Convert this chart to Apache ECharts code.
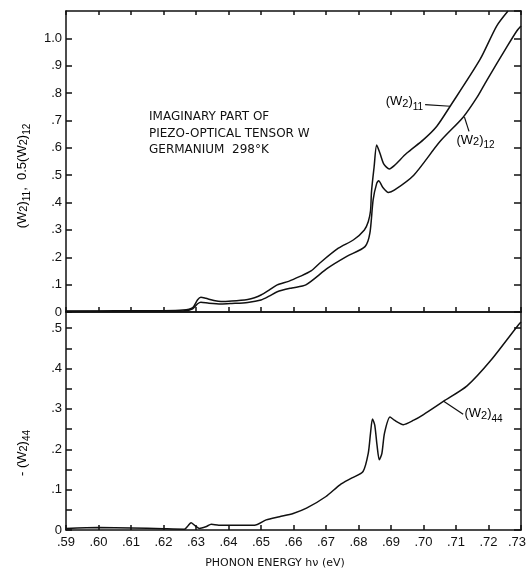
<!DOCTYPE html>
<html>
<head>
<meta charset="utf-8">
<script src="https://cdn.jsdelivr.net/npm/echarts@6/dist/echarts.min.js"></script>
<style>
  html, body { margin: 0; padding: 0; background: #fff; }
  #main { width: 526px; height: 571px; }
</style>
</head>
<body>
<div id="main"></div>
<script>
// photon energy (eV) and values
const w11E = [0.590, 0.600, 0.610, 0.620, 0.626, 0.629, 0.6305, 0.6315, 0.633, 0.6355, 0.6377, 0.641, 0.6459, 0.648, 0.650, 0.6525, 0.655, 0.6585, 0.662, 0.6654, 0.6682, 0.6738, 0.6785, 0.6818, 0.683, 0.6837, 0.684, 0.6848, 0.6856, 0.6866, 0.6878, 0.6895, 0.691, 0.6948, 0.700, 0.7041, 0.7082, 0.7174, 0.7225, 0.726];
const w11V = [0.004, 0.004, 0.005, 0.005, 0.007, 0.016, 0.045, 0.054, 0.050, 0.042, 0.038, 0.040, 0.046, 0.052, 0.062, 0.080, 0.099, 0.112, 0.130, 0.150, 0.180, 0.233, 0.264, 0.300, 0.330, 0.370, 0.440, 0.530, 0.610, 0.580, 0.540, 0.523, 0.535, 0.580, 0.630, 0.679, 0.752, 0.923, 1.045, 1.100];

const w12E = [0.590, 0.610, 0.626, 0.629, 0.6305, 0.6315, 0.634, 0.6377, 0.641, 0.6459, 0.650, 0.6525, 0.655, 0.6595, 0.6638, 0.6705, 0.6764, 0.682, 0.6835, 0.6845, 0.6856, 0.6862, 0.6875, 0.6892, 0.691, 0.697, 0.705, 0.7122, 0.7165, 0.7194, 0.7256, 0.7287, 0.730];
const w12V = [0.002, 0.003, 0.004, 0.012, 0.030, 0.036, 0.032, 0.029, 0.031, 0.035, 0.044, 0.058, 0.074, 0.088, 0.099, 0.160, 0.203, 0.239, 0.288, 0.410, 0.470, 0.480, 0.455, 0.437, 0.445, 0.500, 0.622, 0.712, 0.785, 0.845, 0.968, 1.027, 1.045];

const w44E = [0.590, 0.600, 0.610, 0.620, 0.6264, 0.6275, 0.6285, 0.6295, 0.631, 0.633, 0.6347, 0.637, 0.642, 0.648, 0.6516, 0.6557, 0.6599, 0.664, 0.670, 0.6743, 0.678, 0.6814, 0.683, 0.6837, 0.6843, 0.685, 0.6857, 0.6864, 0.6872, 0.688, 0.6897, 0.691, 0.6938, 0.697, 0.700, 0.7062, 0.7134, 0.7206, 0.729, 0.730];
const w44V = [0.004, 0.006, 0.005, 0.003, 0.002, 0.010, 0.018, 0.012, 0.004, 0.008, 0.014, 0.012, 0.012, 0.012, 0.025, 0.033, 0.041, 0.054, 0.083, 0.112, 0.129, 0.145, 0.190, 0.240, 0.275, 0.260, 0.210, 0.174, 0.190, 0.240, 0.280, 0.272, 0.261, 0.272, 0.286, 0.319, 0.357, 0.419, 0.506, 0.515];

const xTickLabels = ['.59', '.60', '.61', '.62', '.63', '.64', '.65', '.66', '.67', '.68', '.69', '.70', '.71', '.72', '.73'];
const topTickLabels = ['0', '.1', '.2', '.3', '.4', '.5', '.6', '.7', '.8', '.9', '1.0'];
const lowTickLabels = ['0', '.1', '.2', '.3', '.4', '.5'];

const FONT = 'Liberation Sans';
const INK = '#111';

function pairs (xs, ys) {
  return xs.map((x, i) => [x, ys[i]]);
}

var chart = echarts.init(document.getElementById('main'), null, { renderer: 'canvas' });

const line = { lineStyle: { color: INK, width: 1.5 } };

function xAxis (grid, pos, labels, tickLen, tickShow) {
  return {
    type: 'value', gridIndex: grid, position: pos,
    min: 0.59, max: 0.73, interval: 0.01,
    axisLine: { onZero: false, ...line },
    axisTick: { show: tickShow, inside: true, length: tickLen, ...line },
    axisLabel: {
      show: labels, margin: 6, color: INK, fontFamily: FONT, fontSize: 13,
      formatter: v => {
        const i = Math.round((v - 0.59) * 100);
        const t = xTickLabels[i] || '';
        // last label sits against the page edge, nudge it left a little
        return i === xTickLabels.length - 1 ? '{m|' + t + '}' : t;
      },
      rich: { m: { fontFamily: FONT, fontSize: 13, color: INK, padding: [0, 8, 0, 0] } }
    },
    splitLine: { show: false }
  };
}

const option = {
  backgroundColor: '#fff',
  animation: false,
  grid: [
    { left: 66, right: 5, top: 11, height: 301, outerBoundsMode: 'none', containLabel: false },
    { left: 66, right: 5, top: 312, height: 218, outerBoundsMode: 'none', containLabel: false }
  ],
  xAxis: [
    xAxis(0, 'bottom', false, 5, true),
    xAxis(0, 'top', false, 4, true),
    xAxis(1, 'bottom', true, 5, true),
    xAxis(1, 'top', false, 4, false)
  ],
  yAxis: [
    {
      type: 'value', gridIndex: 0, position: 'left', min: 0, max: 1.1, interval: 0.1,
      axisLine: { show: true, ...line },
      axisTick: { inside: true, length: 6, ...line },
      axisLabel: {
        margin: 4, color: INK, fontFamily: FONT, fontSize: 13, showMaxLabel: false,
        formatter: v => topTickLabels[Math.round(v * 10)] || ''
      },
      splitLine: { show: false }
    },
    {
      type: 'value', gridIndex: 0, position: 'right', min: 0, max: 1.1, interval: 0.1,
      axisLine: { show: true, ...line },
      axisTick: { inside: true, length: 7, ...line },
      axisLabel: { show: false },
      splitLine: { show: false }
    },
    {
      type: 'value', gridIndex: 1, position: 'left', min: 0, max: 0.54, interval: 0.05,
      axisLine: { show: true, ...line },
      axisTick: { inside: true, length: 6, ...line },
      axisLabel: {
        margin: 4, color: INK, fontFamily: FONT, fontSize: 13, showMaxLabel: false,
        formatter: v => {
          const k = Math.round(v * 100);
          return k % 10 === 0 ? (lowTickLabels[k / 10] || '') : '';
        }
      },
      splitLine: { show: false }
    },
    {
      type: 'value', gridIndex: 1, position: 'right', min: 0, max: 0.54, interval: 0.05,
      axisLine: { show: true, ...line },
      axisTick: { inside: true, length: 7, ...line },
      axisLabel: { show: false },
      splitLine: { show: false }
    }
  ],
  series: [
    { name: '(W2)11', type: 'line', xAxisIndex: 0, yAxisIndex: 0, data: pairs(w11E, w11V) },
    { name: '0.5(W2)12', type: 'line', xAxisIndex: 0, yAxisIndex: 0, data: pairs(w12E, w12V) },
    { name: '-(W2)44', type: 'line', xAxisIndex: 2, yAxisIndex: 2, data: pairs(w44E, w44V) }
  ].map(s => Object.assign(s, {
    showSymbol: false, smooth: 0.25, clip: true,
    lineStyle: { color: INK, width: 1.5 }
  }))
};
chart.setOption(option);

// text annotations; curve labels anchored in data coordinates
const sub = {
  a: { fontFamily: FONT, fontSize: 13, color: INK, verticalAlign: 'top', lineHeight: 15 },
  b: { fontFamily: FONT, fontSize: 11, color: INK, verticalAlign: 'top', padding: [3, 0, 0, 0] },
  c: { fontFamily: FONT, fontSize: 10, color: INK, verticalAlign: 'top', padding: [7, 0, 0, 0] }
};
const wText = s => '{a|(W}{b|2}{a|)}{c|' + s + '}';

const p = (g, pt) => chart.convertToPixel({ gridIndex: g }, pt);

function leader (g, from, to) {
  const a = p(g, from), b = p(g, to);
  return { type: 'line', shape: { x1: a[0], y1: a[1], x2: b[0], y2: b[1] }, style: { stroke: INK, lineWidth: 1.2 } };
}

const l11 = p(0, [0.7002, 0.762]);
const l12 = p(0, [0.7160, 0.652]);
const l44 = p(1, [0.7126, 0.283]);

chart.setOption({
  graphic: [
    {
      type: 'text', x: 149, y: 109,
      style: {
        text: 'IMAGINARY PART OF\nPIEZO-OPTICAL TENSOR W\nGERMANIUM  298°K',
        font: '12px "DejaVu Sans"', lineHeight: 16.5, fill: INK
      }
    },
    {
      type: 'text', x: 275, y: 563,
      style: { text: 'PHONON ENERGY hν (eV)', font: '11px "DejaVu Sans"', fill: INK, align: 'center', verticalAlign: 'middle' }
    },
    {
      type: 'text', x: 24, y: 176, rotation: Math.PI / 2,
      style: { text: wText('11') + '{a|,  0.5}' + wText('12'), rich: sub, align: 'center', verticalAlign: 'middle' }
    },
    {
      type: 'text', x: 24, y: 453, rotation: Math.PI / 2,
      style: { text: '{a|- }' + wText('44'), rich: sub, align: 'center', verticalAlign: 'middle' }
    },
    leader(0, [0.7005, 0.758], [0.7082, 0.752]),
    { type: 'text', x: l11[0] - 1, y: l11[1], style: { text: wText('11'), rich: sub, align: 'right', verticalAlign: 'middle' } },
    leader(0, [0.7126, 0.712], [0.7140, 0.660]),
    { type: 'text', x: l12[0], y: l12[1], style: { text: wText('12'), rich: sub, align: 'center', verticalAlign: 'top' } },
    leader(1, [0.7062, 0.319], [0.7122, 0.287]),
    { type: 'text', x: l44[0], y: l44[1], style: { text: wText('44'), rich: sub, align: 'left', verticalAlign: 'middle' } }
  ]
});
</script>
</body>
</html>
